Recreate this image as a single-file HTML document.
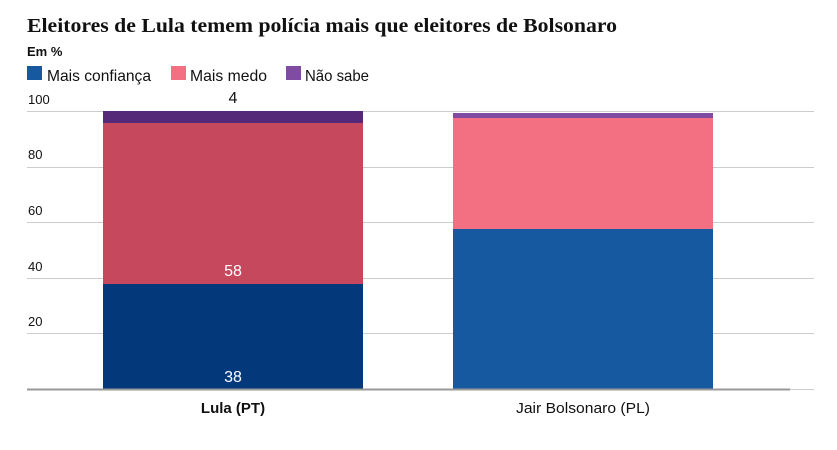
<!DOCTYPE html>
<html><head><meta charset="utf-8">
<style>
html,body{margin:0;padding:0;background:#fff;}
svg{display:block;}
</style></head>
<body>
<svg width="837" height="450" viewBox="0 0 837 450" xmlns="http://www.w3.org/2000/svg">
<rect width="837" height="450" fill="#fff"/>
<text x="27" y="32" font-family="Liberation Serif, serif" font-weight="bold" font-size="20" fill="#111" textLength="590" lengthAdjust="spacingAndGlyphs">Eleitores de Lula temem polícia mais que eleitores de Bolsonaro</text>
<text x="27" y="56" font-family="Liberation Sans, sans-serif" font-weight="bold" font-size="13" fill="#111">Em %</text>
<rect x="27" y="66" width="15" height="14" fill="#1659a1"/>
<text x="47" y="81" font-family="Liberation Sans, sans-serif" font-size="16" fill="#111" textLength="104" lengthAdjust="spacingAndGlyphs">Mais confiança</text>
<rect x="171" y="66" width="15" height="14" fill="#f37083"/>
<text x="190" y="81" font-family="Liberation Sans, sans-serif" font-size="16" fill="#111" textLength="77" lengthAdjust="spacingAndGlyphs">Mais medo</text>
<rect x="286" y="66" width="15" height="14" fill="#7f4ca1"/>
<text x="305" y="81" font-family="Liberation Sans, sans-serif" font-size="16" fill="#111" textLength="64" lengthAdjust="spacingAndGlyphs">Não sabe</text>
<g stroke="#cccccc" stroke-width="1">
<line x1="27" y1="111.5" x2="814" y2="111.5"/>
<line x1="27" y1="167.5" x2="814" y2="167.5"/>
<line x1="27" y1="222.5" x2="814" y2="222.5"/>
<line x1="27" y1="278.5" x2="814" y2="278.5"/>
<line x1="27" y1="333.5" x2="814" y2="333.5"/>
<line x1="27" y1="389.5" x2="814" y2="389.5"/>
</g>
<g font-family="Liberation Sans, sans-serif" font-size="13" fill="#111">
<text x="28" y="104">100</text>
<text x="28" y="159">80</text>
<text x="28" y="215">60</text>
<text x="28" y="271">40</text>
<text x="28" y="326">20</text>
</g>
<!-- Lula -->
<rect x="103" y="284" width="260" height="105" fill="#03387a"/>
<rect x="103" y="123" width="260" height="161" fill="#c6485c"/>
<rect x="103" y="111" width="260" height="12" fill="#562878"/>
<!-- Bolsonaro -->
<rect x="453" y="229" width="260" height="160" fill="#1659a1"/>
<rect x="453" y="118" width="260" height="111" fill="#f37083"/>
<rect x="453" y="113" width="260" height="5" fill="#7f4ca1"/>
<line x1="27" y1="389.5" x2="790" y2="389.5" stroke="#999" stroke-width="2"/>
<g font-family="Liberation Sans, sans-serif" font-size="16" text-anchor="middle">
<text x="233" y="103" fill="#111">4</text>
<text x="233" y="276" fill="#fff">58</text>
<text x="233" y="382" fill="#fff">38</text>
</g>
<text x="233" y="413" font-family="Liberation Sans, sans-serif" font-size="15" font-weight="bold" fill="#111" text-anchor="middle">Lula (PT)</text>
<text x="583" y="413" font-family="Liberation Sans, sans-serif" font-size="15" fill="#111" text-anchor="middle" textLength="134" lengthAdjust="spacingAndGlyphs">Jair Bolsonaro (PL)</text>
</svg>
</body></html>
